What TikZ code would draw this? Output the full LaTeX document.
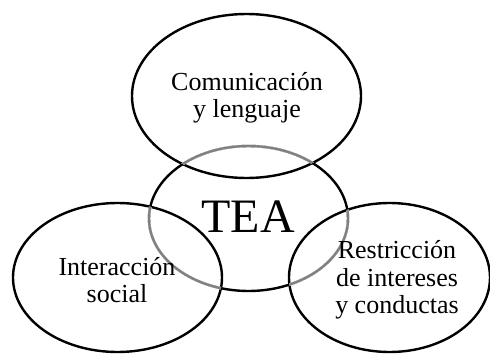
\documentclass[tikz,border=0pt]{standalone}
\usepackage{fontspec}
\setmainfont{Liberation Serif}
\definecolor{midgray}{RGB}{128,128,128}
\begin{document}
\begin{tikzpicture}[x=1pt,y=-1pt,
  ring/.style={line width=2.4pt,draw=black},
  lbl/.style={align=center,inner sep=0pt,font=\fontsize{26}{27.5}\selectfont},
  big/.style={inner sep=0pt,font=\fontsize{48}{52}\selectfont}]
\useasboundingbox (0,0) rectangle (490,356);
\fill[white] (0,0) rectangle (490,356);
% ellipses
\draw[ring] (246.5,96) ellipse [x radius=114.5, y radius=82];
\draw[ring] (117.5,277.5) ellipse [x radius=104.5, y radius=74.5];
\draw[ring] (389.5,277.5) ellipse [x radius=100.5, y radius=74.5];
\draw[ring] (248.5,218.5) ellipse [x radius=99.5, y radius=72.5];
% gray parts of the centre ellipse inside the others
\begin{scope}
  \clip (246.5,96) ellipse [x radius=114.5, y radius=82];
  \draw[line width=2.7pt,white] (248.5,218.5) ellipse [x radius=99.5, y radius=72.5];
  \draw[line width=2.4pt,midgray] (248.5,218.5) ellipse [x radius=99.5, y radius=72.5];
\end{scope}
\begin{scope}
  \clip (117.5,277.5) ellipse [x radius=104.5, y radius=74.5];
  \draw[line width=2.7pt,white] (248.5,218.5) ellipse [x radius=99.5, y radius=72.5];
  \draw[line width=2.4pt,midgray] (248.5,218.5) ellipse [x radius=99.5, y radius=72.5];
\end{scope}
\begin{scope}
  \clip (389.5,277.5) ellipse [x radius=100.5, y radius=74.5];
  \draw[line width=2.7pt,white] (248.5,218.5) ellipse [x radius=99.5, y radius=72.5];
  \draw[line width=2.4pt,midgray] (248.5,218.5) ellipse [x radius=99.5, y radius=72.5];
\end{scope}
% labels
\node[lbl] (com) at (247,98) {Comunicación\\y lenguaje};
\node[big,anchor=base] (tea) at (248,232) {TEA};
\node[lbl] (soc) at (117,280) {Interacción\\social};
\node[lbl] (res) at (397,280) {Restricción\\de intereses\\y conductas};
\end{tikzpicture}
\end{document}
